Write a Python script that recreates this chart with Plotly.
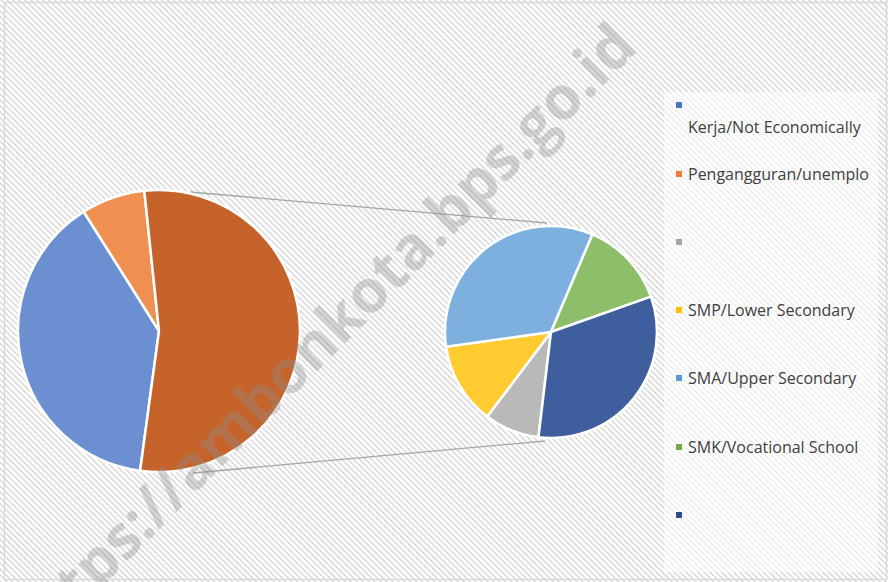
import base64
import plotly.graph_objects as go

W, H = 888, 582

# ---------------- data ----------------
# primary pie (percent shares, clockwise order)
primary_labels = ["Bukan Angkatan Kerja/Not Economically", "Pengangguran/unemplo", "Other"]
primary_values = [38.9, 7.3, 53.8]

# secondary pie (breakdown of "Other", clockwise order)
secondary_labels = ["Kategori A", "SMP/Lower Secondary", "SMA/Upper Secondary",
                    "SMK/Vocational School", "Kategori B"]
secondary_values = [8.4, 12.5, 33.6, 13.2, 32.3]

# legend texts as displayed (some entries show no text)
legend_texts = ["Kerja/Not Economically", "Pengangguran/unemplo", "",
                "SMP/Lower Secondary", "SMA/Upper Secondary",
                "SMK/Vocational School", ""]

watermark = "https://ambonkota.bps.go.id"

# ---------------- styles ----------------
primary_colors = ["#6C8FD2", "#EF9050", "#C5632A"]
secondary_colors = ["#B9B9B9", "#FFCB30", "#7DB0DF", "#8DBF6B", "#3F5E9E"]
legend_colors = ["#4C74C6", "#ED7D31", "#A5A5A5", "#FFC000", "#5B9BD5", "#70AD47", "#2F4D8A"]
legend_marker_y = [105, 174, 242, 310, 378, 447, 515]
legend_text_y = [127, 174, 242, 310, 378, 447, 515]


def px_x(x):
    return x / W


def px_y(y):
    return 1 - y / H


fig = go.Figure()

# primary pie: center (159,331), r=141
fig.add_trace(go.Pie(
    labels=primary_labels, values=primary_values, sort=False,
    direction="clockwise", rotation=187.7,
    marker=dict(colors=primary_colors, line=dict(color="white", width=2.5)),
    textinfo="none", hoverinfo="label+percent", showlegend=False,
    domain=dict(x=[px_x(159 - 141), px_x(159 + 141)], y=[px_y(331 + 141), px_y(331 - 141)]),
))

# secondary pie: center (551,332), r=106
fig.add_trace(go.Pie(
    labels=secondary_labels, values=secondary_values, sort=False,
    direction="clockwise", rotation=186.8,
    marker=dict(colors=secondary_colors, line=dict(color="white", width=2.5)),
    textinfo="none", hoverinfo="label+percent", showlegend=False,
    domain=dict(x=[px_x(551 - 106), px_x(551 + 106)], y=[px_y(332 + 106), px_y(332 - 106)]),
))

# hatch background as svg pattern
svg = (
    f"<svg xmlns='http://www.w3.org/2000/svg' width='{W}' height='{H}'>"
    "<defs><pattern id='p' width='4.2' height='4.2' patternUnits='userSpaceOnUse' "
    "patternTransform='rotate(-45)'>"
    "<rect width='4.2' height='4.2' fill='#ffffff'/>"
    "<rect width='1.7' height='4.2' fill='#dcdcdc'/></pattern></defs>"
    f"<rect width='{W}' height='{H}' fill='url(#p)'/></svg>"
)
src = "data:image/svg+xml;base64," + base64.b64encode(svg.encode()).decode()

shapes = []
# connector lines
shapes.append(dict(type="line", xref="paper", yref="paper",
                   x0=px_x(190), y0=px_y(192), x1=px_x(547), y1=px_y(223),
                   line=dict(color="#a6a6a6", width=1.3), layer="below"))
shapes.append(dict(type="line", xref="paper", yref="paper",
                   x0=px_x(193), y0=px_y(473), x1=px_x(545), y1=px_y(441),
                   line=dict(color="#a6a6a6", width=1.3), layer="below"))
# legend box
shapes.append(dict(type="rect", xref="paper", yref="paper",
                   x0=px_x(664), y0=px_y(92), x1=px_x(878), y1=px_y(572),
                   fillcolor="rgba(255,255,255,0.55)", line=dict(width=0), layer="below"))
# chart border
shapes.append(dict(type="rect", xref="paper", yref="paper",
                   x0=px_x(4.5), y0=px_y(2.5), x1=px_x(886.5), y1=px_y(579.5),
                   fillcolor="rgba(0,0,0,0)", line=dict(color="#d9d9d9", width=1.5), layer="above"))

annotations = []
for txt, col, my, ty in zip(legend_texts, legend_colors, legend_marker_y, legend_text_y):
    shapes.append(dict(type="rect", xref="paper", yref="paper",
                       x0=px_x(676), y0=px_y(my - 3), x1=px_x(682), y1=px_y(my + 3),
                       fillcolor=col, line=dict(width=0)))
    if txt:
        annotations.append(dict(text=txt, xref="paper", yref="paper",
                                x=px_x(686), y=px_y(ty), xanchor="left", yanchor="middle",
                                showarrow=False,
                                font=dict(family="Open Sans", size=16, color="#404040")))

annotations.append(dict(text=watermark, xref="paper", yref="paper",
                        x=px_x(320), y=px_y(336), xanchor="center", yanchor="middle",
                        showarrow=False, textangle=-45,
                        font=dict(family="Open Sans", size=60, weight="bold",
                                  color="rgba(140,140,140,0.36)")))

fig.update_layout(
    width=W, height=H,
    margin=dict(l=0, r=0, t=0, b=0),
    paper_bgcolor="white", plot_bgcolor="rgba(0,0,0,0)",
    images=[dict(source=src, xref="paper", yref="paper", x=0, y=1, sizex=1, sizey=1,
                 xanchor="left", yanchor="top", sizing="stretch", layer="below")],
    shapes=shapes, annotations=annotations,
    showlegend=False,
)

fig.write_html("out.html", config={"displayModeBar": False},
               post_script="document.body.style.margin='0';document.body.style.overflow='hidden';")
